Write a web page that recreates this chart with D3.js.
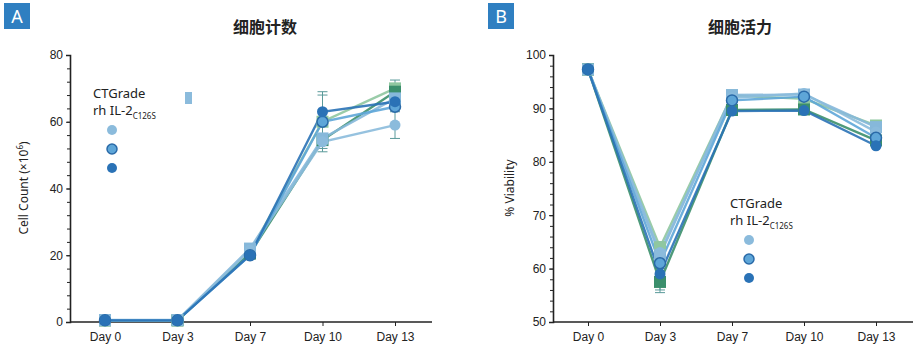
<!DOCTYPE html>
<html>
<head>
<meta charset="utf-8">
<script src="https://cdn.jsdelivr.net/npm/d3@7"></script>
<style>
  body { margin: 0; background: #fff; }
  svg { display: block; font-family: "Noto Sans", "Noto Sans CJK SC", sans-serif; }
  .axis path, .axis line { stroke: #222; }
  .axis text { font-size: 12px; fill: #222; }
</style>
</head>
<body>
<svg id="chart" width="917" height="353"></svg>
<script>
// Shared categories
const days = ['Day 0', 'Day 3', 'Day 7', 'Day 10', 'Day 13'];

// Panel A: cell count (x10^6), one array per series
const countLight  = [0.5, 0.5, 21.5, 54, 59];
const countMid    = [0.5, 0.5, 20, 60, 64.5];
const countDark   = [0.5, 0.5, 20, 63, 66];
const countSqBlue = [0.6, 0.6, 22, 55, 67];
const countGreen  = [0.5, 0.5, 20.5, 54.5, 69];
const countTeal   = [0.5, 0.5, 21, 60, 70];
// error bars [day index, low, high]
const countErr = [[3, 51, 69], [3, 52, 68], [4, 55, 63], [4, 66, 72.5]];

// Panel B: viability (%)
const viaLight  = [97.3, 63, 92, 92.8, 85.6];
const viaMid    = [97.3, 61, 91.5, 92.2, 84.5];
const viaDark   = [97.3, 59, 89.5, 89.6, 83];
const viaSqBlue = [97.3, 62.5, 92.5, 92.6, 86.5];
const viaGreen  = [97.3, 57.5, 89.7, 89.8, 84];
const viaTeal   = [97.3, 64, 92.4, 91.8, 86.8];
const viaErr = [[1, 56, 65], [1, 55.5, 60]];

const palette = {
  light: '#8bbbdc', mid: '#5ea6d8', dark: '#2a72b6',
  sqBlue: '#86b8da', green: '#3b8f6c', teal: '#8fc7a0'
};

const svg = d3.select('#chart');

function drawPanel(cfg) {
  const g = svg.append('g');
  const x = d3.scalePoint().domain(days).range([cfg.x0 + 35, cfg.x1 - 37]);
  const y = d3.scaleLinear().domain(cfg.yDomain).range([322, 55]);

  // y axis with minor ticks
  const minor = d3.range(cfg.yDomain[0], cfg.yDomain[1] + 0.001, cfg.minorStep);
  g.append('g').attr('class', 'axis')
    .attr('transform', `translate(${cfg.x0},0)`)
    .call(d3.axisLeft(y).tickValues(minor).tickSize(3).tickFormat(''))
    .call(s => s.select('.domain').remove());
  g.append('g').attr('class', 'axis')
    .attr('transform', `translate(${cfg.x0},0)`)
    .call(d3.axisLeft(y).tickValues(cfg.yTicks).tickSize(4).tickSizeOuter(4))
    .call(s => s.select('.domain').attr('stroke-width', 1.6));

  // x axis
  g.append('g').attr('class', 'axis')
    .attr('transform', 'translate(0,322)')
    .call(d3.axisBottom(x).tickSize(4).tickSizeOuter(0).tickPadding(6))
    .call(s => s.select('.domain').attr('d', `M${cfg.x0},0H${cfg.x1}`).attr('stroke-width', 1.6));

  // y label
  g.append('text')
    .attr('transform', `translate(${cfg.x0 - cfg.labelOff},188) rotate(-90)`)
    .attr('text-anchor', 'middle')
    .attr('font-size', 12).attr('fill', '#222')
    .html(cfg.yLabel);

  // title
  g.append('text')
    .attr('x', cfg.titleX).attr('y', 33)
    .attr('text-anchor', 'middle')
    .attr('font-family', '"Noto Sans CJK SC", sans-serif')
    .attr('font-size', 16).attr('font-weight', 'bold').attr('fill', '#222')
    .text(cfg.title);

  // panel letter
  g.append('rect').attr('x', cfg.boxX).attr('y', 3).attr('width', 26).attr('height', 26).attr('fill', '#2f7fc1');
  g.append('text').attr('x', cfg.boxX + 13).attr('y', 23)
    .attr('text-anchor', 'middle').attr('font-size', 18).attr('fill', '#fff')
    .text(cfg.letter);

  const line = d3.line().x((d, i) => x(days[i])).y(d => y(d));

  // error bars
  cfg.err.forEach(([i, lo, hi]) => {
    const cx = x(days[i]);
    const eg = g.append('g').attr('stroke', '#5a9a9a').attr('stroke-width', 1);
    eg.append('line').attr('x1', cx).attr('x2', cx).attr('y1', y(lo)).attr('y2', y(hi));
    eg.append('line').attr('x1', cx - 5).attr('x2', cx + 5).attr('y1', y(lo)).attr('y2', y(lo));
    eg.append('line').attr('x1', cx - 5).attr('x2', cx + 5).attr('y1', y(hi)).attr('y2', y(hi));
  });

  cfg.series.forEach(s => {
    g.append('path').datum(s.values)
      .attr('d', line).attr('fill', 'none')
      .attr('stroke', s.color).attr('stroke-width', 2.4).attr('opacity', 0.9);
  });
  cfg.series.forEach(s => {
    const m = g.selectAll(null).data(s.values).join(s.shape === 'circle' ? 'circle' : 'rect');
    if (s.shape === 'circle') {
      m.attr('cx', (d, i) => x(days[i])).attr('cy', d => y(d)).attr('r', 5.5);
    } else {
      m.attr('x', (d, i) => x(days[i]) - 6).attr('y', d => y(d) - 6)
        .attr('width', 12).attr('height', 12);
    }
    m.attr('fill', s.color)
      .attr('stroke', s.stroke || 'none').attr('stroke-width', 1.5);
  });

  // legend
  const lg = g.append('g').attr('transform', `translate(${cfg.legX},${cfg.legY})`);
  lg.append('text').attr('font-size', 13).attr('fill', '#222').text('CTGrade');
  const t2 = lg.append('text').attr('y', 17).attr('font-size', 13).attr('fill', '#222');
  t2.append('tspan').text('rh IL-2');
  t2.append('tspan').attr('font-size', 8).attr('dy', 4).text('C126S');
  const legCircles = [
    {fill: palette.light, stroke: 'none'},
    {fill: palette.mid, stroke: '#2a6aa8'},
    {fill: palette.dark, stroke: 'none'}
  ];
  lg.selectAll('circle').data(legCircles).join('circle')
    .attr('cx', 19).attr('cy', (d, i) => 32 + i * 19).attr('r', 5)
    .attr('fill', d => d.fill).attr('stroke', d => d.stroke).attr('stroke-width', 1.5);
  if (cfg.legSquare) {
    lg.append('rect').attr('x', 92).attr('y', -6).attr('width', 7).attr('height', 12)
      .attr('fill', palette.light);
  }
}

const seriesOf = (vals) => [
  {values: vals[0], color: palette.teal, shape: 'rect'},
  {values: vals[1], color: palette.green, shape: 'rect'},
  {values: vals[2], color: palette.sqBlue, shape: 'rect'},
  {values: vals[3], color: palette.light, shape: 'circle'},
  {values: vals[4], color: palette.mid, shape: 'circle', stroke: '#2a6aa8'},
  {values: vals[5], color: palette.dark, shape: 'circle'}
];

drawPanel({
  x0: 70, x1: 432, yDomain: [0, 80], yTicks: [0, 20, 40, 60, 80], minorStep: 4,
  yLabel: 'Cell Count (×10<tspan dy="-5" font-size="8">6</tspan><tspan dy="5">)</tspan>',
  labelOff: 42,
  title: '细胞计数', titleX: 265, letter: 'A', boxX: 4,
  err: countErr, legX: 93, legY: 98, legSquare: true,
  series: seriesOf([countTeal, countGreen, countSqBlue, countLight, countMid, countDark])
});

drawPanel({
  x0: 553, x1: 913, yDomain: [50, 100], yTicks: [50, 60, 70, 80, 90, 100], minorStep: 2,
  yLabel: '% Viability', labelOff: 39,
  title: '细胞活力', titleX: 740, letter: 'B', boxX: 488,
  err: viaErr, legX: 730, legY: 208, legSquare: false,
  series: seriesOf([viaTeal, viaGreen, viaSqBlue, viaLight, viaMid, viaDark])
});
</script>
</body>
</html>
